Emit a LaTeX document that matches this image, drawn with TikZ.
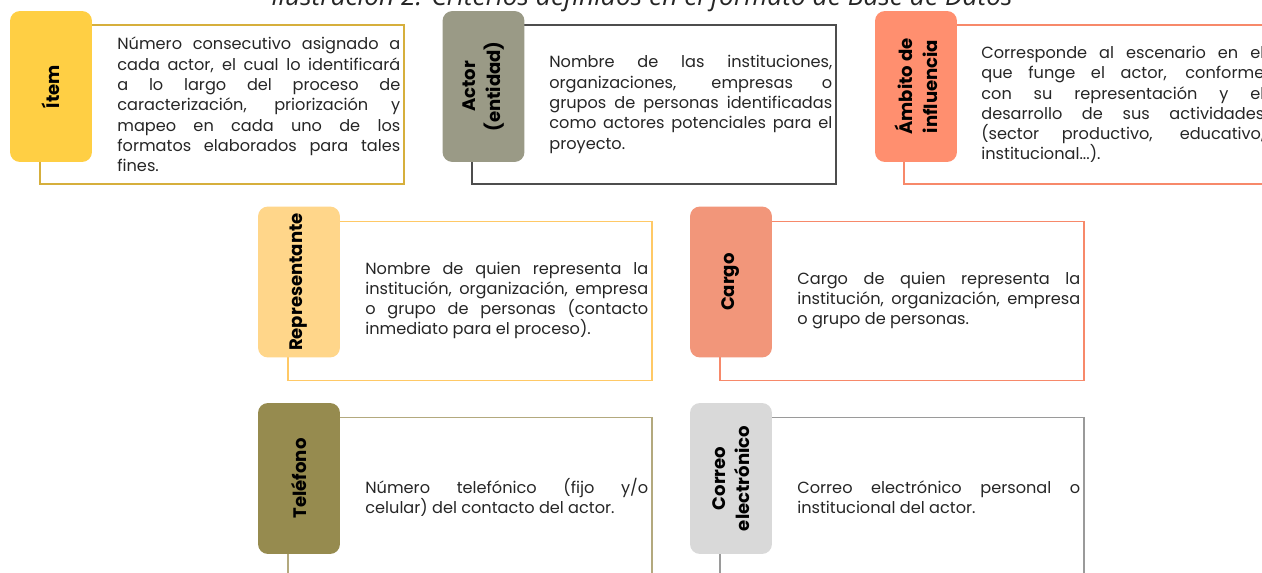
\documentclass[tikz,border=0pt]{standalone}
\usepackage{fontspec}
\setmainfont{Poppins}
\newfontfamily\capfont{Open Sans}
\usetikzlibrary{positioning}
\definecolor{itemgold}{HTML}{FFCF44}
\definecolor{itemline}{HTML}{D6AF3C}
\definecolor{actorgray}{HTML}{9A9A86}
\definecolor{actorline}{HTML}{4D4D4D}
\definecolor{ambsalmon}{HTML}{FF8F6F}
\definecolor{ambline}{HTML}{F7896A}
\definecolor{repsand}{HTML}{FFD68A}
\definecolor{repline}{HTML}{FFC966}
\definecolor{cargocoral}{HTML}{F2967A}
\definecolor{telolive}{HTML}{968B4F}
\definecolor{telline}{HTML}{B3A97E}
\definecolor{mailgray}{HTML}{D9D9D9}
\definecolor{mailline}{HTML}{9A9A9A}
\definecolor{txtgray}{HTML}{262626}
\hyphenpenalty=10000
\tolerance=10000

\begin{document}
\begin{tikzpicture}[x=0.02cm,y=-0.02cm,
    frame/.style={draw=#1,line width=0.85pt,minimum width=7.28cm,minimum height=3.18cm,inner sep=0pt},
    tab/.style={fill=#1,rounded corners=0.2cm,rotate=90,minimum width=3.02cm,minimum height=1.64cm,
        inner sep=0pt,align=center,font=\fontsize{10.3}{14}\selectfont\bfseries,text=black},
    desc/.style={anchor=west,text width=5.66cm,align=justify,inner sep=0pt,
        font=\fontsize{9.2}{11.55}\selectfont,text=txtgray}]
    \useasboundingbox (0,0) rectangle (1262,572);
    \clip (0,0) rectangle (1262,572);
    \fill[white] (0,0) rectangle (1262,572);
    \node[font=\capfont\itshape\fontsize{15}{17}\selectfont,text=txtgray,anchor=base] (caption) at (642,5)
        {Ilustración 2. Criterios definidos en el formato de Base de Datos};
    % first row
    \node[frame=itemline] (itemframe) at (222,104.5) {};
    \node[tab=itemgold] (itemtab) at (51,86.5) {Ítem};
    \node[desc] (itemtext) at (117,104.5) {Número consecutivo asignado a\linebreak
        cada actor, el cual lo identificará\linebreak a lo largo del proceso de\linebreak
        caracterización, priorización y\linebreak mapeo en cada uno de los\linebreak
        formatos elaborados para tales\linebreak fines.};
    \node[frame=actorline] (actorframe) at (654,104.5) {};
    \node[tab=actorgray] (actortab) at (483.5,86.5) {Actor\\(entidad)};
    \node[desc] (actortext) at (549,104.5) {Nombre de las instituciones,\linebreak
        organizaciones, empresas o\linebreak grupos de personas identificadas\linebreak
        como actores potenciales para el\linebreak proyecto.};
    \node[frame=ambline] (ambframe) at (1086,104.5) {};
    \node[tab=ambsalmon] (ambtab) at (916,86.5) {Ámbito de\\influencia};
    \node[desc] (ambtext) at (981,104.5) {Corresponde al escenario en el\linebreak
        que funge el actor, conforme\linebreak con su representación y el\linebreak
        desarrollo de sus actividades\linebreak (sector productivo, educativo,\linebreak
        institucional...).};
    % second row
    \node[frame=repline] (repframe) at (470,301) {};
    \node[tab=repsand] (reptab) at (299,282) {Representante};
    \node[desc] (reptext) at (365,300.5) {Nombre de quien representa la\linebreak
        institución, organización, empresa\linebreak o grupo de personas (contacto\linebreak
        inmediato para el proceso).};
    \node[frame=ambline] (cargoframe) at (902,301) {};
    \node[tab=cargocoral] (cargotab) at (731,282) {Cargo};
    \node[desc] (cargotext) at (797,300.5) {Cargo de quien representa la\linebreak
        institución, organización, empresa\linebreak o grupo de personas.};
    % third row
    \node[frame=telline] (telframe) at (470,497) {};
    \node[tab=telolive] (teltab) at (299,478.5) {Teléfono};
    \node[desc] (teltext) at (365,497.5) {Número telefónico (fijo y/o\linebreak
        celular) del contacto del actor.};
    \node[frame=mailline] (mailframe) at (902,497) {};
    \node[tab=mailgray] (mailtab) at (731,478.5) {Correo\\electrónico};
    \node[desc] (mailtext) at (797,497.5) {Correo electrónico personal o\linebreak
        institucional del actor.};
\end{tikzpicture}
\end{document}
